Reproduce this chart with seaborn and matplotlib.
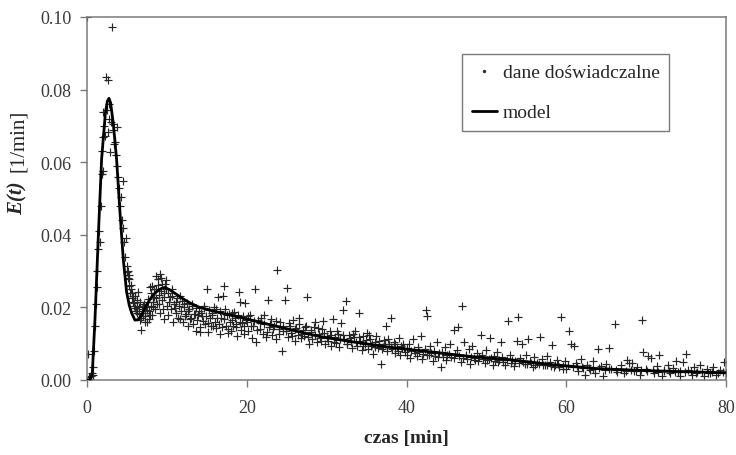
import numpy as np
import pandas as pd
import matplotlib
matplotlib.use("Agg")
import matplotlib.pyplot as plt
from matplotlib.lines import Line2D
import seaborn as sns

t_peak = [0.0, 0.15, 0.2, 0.3, 0.4, 0.5, 0.6, 0.7, 0.8, 0.9, 1.0, 1.1, 1.2, 1.3, 1.4, 1.5,
          1.62, 1.7, 1.83, 1.9, 1.95, 2.0, 2.05, 2.15, 2.25, 2.37, 2.45, 2.58, 2.6, 2.7, 2.8,
          2.9, 3.0, 3.08, 3.2, 3.3, 3.4, 3.5, 3.6, 3.7, 3.8, 3.9, 4.0, 4.1, 4.25, 4.35, 4.45,
          4.54, 4.65, 4.75, 4.85, 4.96, 5.0, 5.1]
e_peak = [0.1000, 0.0072, 0.0003, 0.0008, 0.0002, 0.0012, 0.0020, 0.0015, 0.0035, 0.0080,
          0.0150, 0.0210, 0.0255, 0.0300, 0.0360, 0.0411, 0.0379, 0.0480, 0.0567, 0.0630,
          0.0577, 0.0670, 0.0737, 0.0700, 0.0673, 0.0836, 0.0745, 0.0827, 0.0682, 0.0760,
          0.0720, 0.0627, 0.0710, 0.0973, 0.0690, 0.0705, 0.0650, 0.0655, 0.0620, 0.0696,
          0.0590, 0.0560, 0.0530, 0.0480, 0.0503, 0.0440, 0.0420, 0.0549, 0.0380, 0.0338,
          0.0390, 0.0315, 0.0297, 0.0280]

t_dip = [5.15, 5.2, 5.25, 5.3, 5.4, 5.45, 5.5, 5.6, 5.65, 5.7, 5.8, 5.85, 5.9, 6.0, 6.05, 6.1,
         6.2, 6.25, 6.3, 6.4, 6.45, 6.5, 6.6, 6.65, 6.7, 6.8, 6.85, 6.9, 7.0, 7.05, 7.1, 7.2,
         7.25, 7.3, 7.4, 7.45, 7.5, 7.6, 7.65, 7.7, 7.8, 7.85, 7.9, 8.0, 8.05, 8.1, 8.2, 8.25,
         8.3, 8.4, 8.45, 8.5, 8.6, 8.65, 8.7, 8.8, 8.85, 8.9, 9.0, 9.05, 9.1, 9.2, 9.25, 9.3,
         9.4, 9.45, 9.5, 9.6, 9.65, 9.7, 9.8, 9.85, 9.9]
e_dip = [0.0300, 0.0260, 0.0290, 0.0278, 0.0240, 0.0262, 0.0250, 0.0225, 0.0240, 0.0215,
         0.0232, 0.0212, 0.0205, 0.0232, 0.0198, 0.0190, 0.0205, 0.0185, 0.0220, 0.0242,
         0.0200, 0.0182, 0.0214, 0.0165, 0.0170, 0.0139, 0.0190, 0.0195, 0.0177, 0.0205,
         0.0210, 0.0159, 0.0175, 0.0185, 0.0200, 0.0192, 0.0159, 0.0222, 0.0215, 0.0168,
         0.0190, 0.0180, 0.0255, 0.0205, 0.0240, 0.0178, 0.0260, 0.0200, 0.0215, 0.0230,
         0.0250, 0.0195, 0.0250, 0.0225, 0.0287, 0.0210, 0.0262, 0.0278, 0.0235, 0.0210,
         0.0292, 0.0185, 0.0245, 0.0280, 0.0220, 0.0265, 0.0195, 0.0240, 0.0230, 0.0168,
         0.0265, 0.0250, 0.0276]

t_mid = [10.0, 10.1, 10.2, 10.3, 10.4, 10.5, 10.6, 10.7, 10.8, 10.9, 11.0, 11.1, 11.2, 11.3,
         11.4, 11.5, 11.6, 11.7, 11.8, 11.9, 12.0, 12.1, 12.2, 12.3, 12.4, 12.5, 12.6, 12.7,
         12.8, 12.9, 13.0, 13.1, 13.2, 13.3, 13.4, 13.5, 13.6, 13.7, 13.8, 13.9, 14.0, 14.1,
         14.2, 14.3, 14.4, 14.5, 14.6, 14.7, 14.8, 14.9, 15.0, 15.1, 15.2, 15.3, 15.4, 15.5,
         15.6, 15.7, 15.8, 15.9, 16.0, 16.1, 16.2, 16.3, 16.4, 16.5, 16.6, 16.7, 16.8, 16.9,
         17.0, 17.1, 17.2, 17.3, 17.4, 17.5, 17.6, 17.7, 17.8, 17.9, 18.0, 18.1, 18.2, 18.3,
         18.4, 18.5, 18.6, 18.7, 18.8, 18.9, 19.0, 19.1, 19.2, 19.3, 19.4, 19.5, 19.6, 19.7,
         19.8, 19.9]
e_mid = [0.0205, 0.0240, 0.0180, 0.0215, 0.0228, 0.0195, 0.0232, 0.0251, 0.0161, 0.0210,
         0.0198, 0.0185, 0.0215, 0.0225, 0.0172, 0.0205, 0.0232, 0.0168, 0.0190, 0.0218,
         0.0160, 0.0200, 0.0208, 0.0175, 0.0183, 0.0212, 0.0150, 0.0190, 0.0195, 0.0168,
         0.0172, 0.0210, 0.0205, 0.0155, 0.0182, 0.0182, 0.0136, 0.0198, 0.0165, 0.0178,
         0.0190, 0.0145, 0.0133, 0.0185, 0.0176, 0.0162, 0.0198, 0.0205, 0.0155, 0.0175,
         0.0251, 0.0158, 0.0131, 0.0192, 0.0170, 0.0150, 0.0185, 0.0178, 0.0148, 0.0200,
         0.0160, 0.0142, 0.0195, 0.0170, 0.0228, 0.0155, 0.0127, 0.0190, 0.0172, 0.0145,
         0.0231, 0.0168, 0.0260, 0.0195, 0.0150, 0.0178, 0.0140, 0.0130, 0.0182, 0.0160,
         0.0135, 0.0185, 0.0165, 0.0148, 0.0188, 0.0170, 0.0145, 0.0155, 0.0120, 0.0180,
         0.0242, 0.0160, 0.0214, 0.0138, 0.0158, 0.0175, 0.0127, 0.0150, 0.0212, 0.0165]

t_slope = [20.0, 20.1, 20.2, 20.4, 20.5, 20.6, 20.8, 20.9, 21.0, 21.2, 21.3, 21.4, 21.6, 21.7,
           21.8, 22.0, 22.1, 22.2, 22.4, 22.5, 22.6, 22.8, 22.9, 23.0, 23.2, 23.3, 23.4, 23.6,
           23.7, 23.8, 24.0, 24.1, 24.2, 24.4, 24.5, 24.6, 24.8, 24.9, 25.0, 25.2, 25.3, 25.4,
           25.6, 25.7, 25.8, 26.0, 26.1, 26.2, 26.4, 26.5, 26.6, 26.8, 26.9, 27.0, 27.2, 27.3,
           27.4, 27.6, 27.7, 27.8, 28.0, 28.1, 28.2, 28.4, 28.5, 28.6, 28.8, 28.9, 29.0, 29.2,
           29.3, 29.4, 29.6, 29.7, 29.8, 30.0, 30.1, 30.2, 30.4, 30.5, 30.6, 30.8, 30.9, 31.0,
           31.2, 31.3, 31.4, 31.6, 31.7, 31.8, 32.0, 32.1, 32.2, 32.4, 32.5, 32.6, 32.8, 32.9,
           33.0, 33.2, 33.3, 33.4, 33.6, 33.7, 33.8, 34.0, 34.1, 34.2, 34.4, 34.5, 34.6, 34.8,
           34.9, 35.0, 35.2, 35.3, 35.4, 35.6, 35.7, 35.8, 36.0, 36.1, 36.2, 36.4, 36.5, 36.6,
           36.8, 36.9, 37.0, 37.2, 37.3, 37.4, 37.6, 37.7, 37.8, 38.0, 38.1, 38.2, 38.4, 38.5,
           38.6, 38.8, 38.9, 39.0, 39.2, 39.3, 39.4, 39.6, 39.7, 39.8]
e_slope = [0.0160, 0.0175, 0.0135, 0.0178, 0.0148, 0.0115, 0.0150, 0.0162, 0.0251, 0.0106,
           0.0138, 0.0165, 0.0140, 0.0158, 0.0172, 0.0128, 0.0180, 0.0155, 0.0118, 0.0132,
           0.0221, 0.0145, 0.0155, 0.0168, 0.0125, 0.0140, 0.0150, 0.0112, 0.0162, 0.0303,
           0.0140, 0.0128, 0.0160, 0.0081, 0.0150, 0.0135, 0.0221, 0.0135, 0.0253, 0.0118,
           0.0158, 0.0148, 0.0130, 0.0122, 0.0165, 0.0108, 0.0140, 0.0142, 0.0125, 0.0170,
           0.0155, 0.0115, 0.0128, 0.0138, 0.0120, 0.0145, 0.0150, 0.0230, 0.0118, 0.0099,
           0.0132, 0.0138, 0.0112, 0.0145, 0.0125, 0.0161, 0.0105, 0.0142, 0.0128, 0.0115,
           0.0108, 0.0140, 0.0163, 0.0130, 0.0098, 0.0122, 0.0115, 0.0108, 0.0135, 0.0125,
           0.0095, 0.0168, 0.0105, 0.0118, 0.0102, 0.0135, 0.0128, 0.0090, 0.0112, 0.0157,
           0.0193, 0.0125, 0.0112, 0.0219, 0.0100, 0.0098, 0.0125, 0.0115, 0.0105, 0.0088,
           0.0128, 0.0118, 0.0135, 0.0105, 0.0095, 0.0184, 0.0118, 0.0108, 0.0082, 0.0095,
           0.0120, 0.0100, 0.0110, 0.0130, 0.0085, 0.0125, 0.0112, 0.0095, 0.0100, 0.0072,
           0.0105, 0.0092, 0.0122, 0.0088, 0.0108, 0.0100, 0.0044, 0.0085, 0.0092, 0.0110,
           0.0098, 0.0150, 0.0080, 0.0112, 0.0098, 0.0171, 0.0090, 0.0085, 0.0105, 0.0100,
           0.0075, 0.0092, 0.0080, 0.0115, 0.0068, 0.0095, 0.0088, 0.0100, 0.0087, 0.0078]

t_late = [40.0, 40.1, 40.3, 40.5, 40.6, 40.8, 41.0, 41.1, 41.3, 41.5, 41.6, 41.8, 42.0, 42.1,
          42.3, 42.5, 42.55, 42.6, 42.8, 43.0, 43.1, 43.3, 43.5, 43.6, 43.8, 44.0, 44.1, 44.3,
          44.5, 44.6, 44.8, 45.0, 45.1, 45.3, 45.5, 45.6, 45.9, 46.0, 46.1, 46.3, 46.5, 46.6,
          46.8, 47.0, 47.1, 47.25, 47.5, 47.6, 47.8, 48.0, 48.1, 48.2, 48.5, 48.6, 48.8, 49.0,
          49.1, 49.3, 49.5, 49.6, 49.8, 50.0, 50.1, 50.3, 50.5, 50.6, 50.8, 51.0, 51.1, 51.3,
          51.5, 51.6, 51.8, 52.0, 52.1, 52.3, 52.6, 52.7, 52.9, 53.1, 53.2, 53.5, 53.6, 53.8,
          53.9, 54.1, 54.2, 54.5, 54.6, 54.8, 55.0, 55.1, 55.2, 55.5, 55.6, 55.8, 56.0, 56.1,
          56.3, 56.6, 56.75, 57.0, 57.1, 57.3, 57.6, 57.65, 58.0, 58.1, 58.2, 58.5, 58.6, 58.8,
          59.0, 59.1, 59.3, 59.6, 59.65, 59.8]
e_late = [0.0070, 0.0088, 0.0098, 0.0060, 0.0080, 0.0112, 0.0082, 0.0075, 0.0065, 0.0090,
          0.0078, 0.0120, 0.0058, 0.0072, 0.0085, 0.0193, 0.0175, 0.0068, 0.0070, 0.0095,
          0.0075, 0.0052, 0.0080, 0.0066, 0.0105, 0.0062, 0.0074, 0.0035, 0.0078, 0.0062,
          0.0090, 0.0055, 0.0070, 0.0072, 0.0100, 0.0064, 0.0139, 0.0060, 0.0072, 0.0082,
          0.0145, 0.0066, 0.0050, 0.0204, 0.0060, 0.0104, 0.0068, 0.0058, 0.0085, 0.0045,
          0.0064, 0.0094, 0.0060, 0.0055, 0.0075, 0.0052, 0.0062, 0.0124, 0.0070, 0.0058,
          0.0048, 0.0082, 0.0054, 0.0058, 0.0115, 0.0060, 0.0040, 0.0066, 0.0052, 0.0078,
          0.0050, 0.0056, 0.0104, 0.0062, 0.0050, 0.0042, 0.0054, 0.0163, 0.0070, 0.0048,
          0.0055, 0.0038, 0.0052, 0.0108, 0.0174, 0.0046, 0.0060, 0.0099, 0.0050, 0.0045,
          0.0068, 0.0044, 0.0113, 0.0052, 0.0048, 0.0035, 0.0062, 0.0042, 0.0048, 0.0044,
          0.0119, 0.0058, 0.0040, 0.0040, 0.0066, 0.0042, 0.0050, 0.0038, 0.0097, 0.0036,
          0.0040, 0.0055, 0.0044, 0.0036, 0.0173, 0.0030, 0.0038, 0.0052]

t_tail = [60.0, 60.2, 60.4, 60.6, 60.8, 61.0, 61.2, 61.4, 61.5, 61.8, 62.0, 62.1, 62.3, 62.6,
          62.8, 63.0, 63.3, 63.4, 63.6, 64.0, 64.1, 64.3, 64.6, 64.8, 65.0, 65.3, 65.4, 65.6,
          66.1, 66.2, 66.4, 66.8, 66.9, 67.2, 67.5, 67.6, 67.9, 68.1, 68.2, 68.5, 68.7, 68.8,
          69.2, 69.4, 69.5, 69.6, 70.0, 70.1, 70.2, 70.6, 70.8, 71.0, 71.3, 71.5, 71.6, 72.0,
          72.2, 72.3, 72.7, 72.9, 73.0, 73.4, 73.6, 73.7, 74.0, 74.2, 74.3, 74.6, 74.9, 75.0,
          75.3, 75.6, 75.7, 76.0, 76.3, 76.4, 76.8, 77.0, 77.2, 77.6, 77.7, 78.0, 78.3, 78.4,
          78.8, 79.0, 79.2, 79.6, 79.7, 80.0]
e_tail = [0.0030, 0.0040, 0.0136, 0.0099, 0.0036, 0.0094, 0.0048, 0.0038, 0.0025, 0.0058,
          0.0035, 0.0032, 0.0015, 0.0042, 0.0034, 0.0028, 0.0052, 0.0030, 0.0020, 0.0085,
          0.0032, 0.0038, 0.0012, 0.0028, 0.0045, 0.0087, 0.0030, 0.0030, 0.0154, 0.0027,
          0.0022, 0.0040, 0.0030, 0.0018, 0.0026, 0.0056, 0.0046, 0.0028, 0.0046, 0.0025,
          0.0024, 0.0035, 0.0015, 0.0027, 0.0165, 0.0076, 0.0030, 0.0025, 0.0065, 0.0061,
          0.0027, 0.0020, 0.0038, 0.0023, 0.0070, 0.0012, 0.0026, 0.0028, 0.0042, 0.0024,
          0.0018, 0.0032, 0.0022, 0.0053, 0.0022, 0.0025, 0.0010, 0.0050, 0.0021, 0.0072,
          0.0028, 0.0024, 0.0015, 0.0035, 0.0020, 0.0022, 0.0040, 0.0023, 0.0012, 0.0030,
          0.0019, 0.0020, 0.0022, 0.0035, 0.0015, 0.0018, 0.0028, 0.0021, 0.0050, 0.0018]

# ---------------- model curve ----------------
t_model = [0, 0.37, 0.67, 1.0, 1.42, 1.83, 2.3, 2.55, 2.75, 2.95, 3.3, 3.7, 4.1, 4.54, 4.96,
           5.3, 5.6, 6.0, 6.4, 6.8, 7.3, 7.9, 8.4, 8.9, 9.4, 9.75, 10.4, 11.2, 12.0, 13.0,
           14.1, 16.5, 19.1, 21.5, 24.1, 26.5, 29.1, 33.0, 37.9, 42.0, 47.9, 52.5, 58.3,
           64.1, 71.2, 80.0]
e_model = [0, 0, 0.0021, 0.0168, 0.0398, 0.0609, 0.0735, 0.0768, 0.0776, 0.0764, 0.0705,
           0.0609, 0.0471, 0.0333, 0.0242, 0.0205, 0.0184, 0.0165, 0.0166, 0.0178, 0.0200,
           0.0223, 0.0237, 0.0247, 0.0253, 0.0255, 0.0248, 0.0236, 0.0224, 0.0211, 0.0200,
           0.0186, 0.0173, 0.0160, 0.0146, 0.0133, 0.0120, 0.0106, 0.0090, 0.0080, 0.0065,
           0.0057, 0.0042, 0.0031, 0.0025, 0.0020]

x_ticks = [0, 20, 40, 60, 80]
y_ticks = [0.00, 0.02, 0.04, 0.06, 0.08, 0.10]
y_ticklabels = ["0.00", "0.02", "0.04", "0.06", "0.08", "0.10"]

# ---------------- build frames ----------------
exp_df = pd.DataFrame({
    "t": t_peak + t_dip + t_mid + t_slope + t_late + t_tail,
    "E": e_peak + e_dip + e_mid + e_slope + e_late + e_tail,
})
model_df = pd.DataFrame({"t": t_model, "E": e_model})

sns.set_style("white")
plt.rcParams["font.family"] = ["Liberation Serif", "DejaVu Serif"]

fig = plt.figure(figsize=(7.36, 4.56), dpi=100)
ax = fig.add_axes([87 / 736, 1 - 381 / 456, (726 - 87) / 736, (381 - 18) / 456])

sns.scatterplot(data=exp_df, x="t", y="E", ax=ax, marker="+", s=26, color="#262626",
                linewidth=0.85, legend=False, zorder=2)
sns.lineplot(data=model_df, x="t", y="E", ax=ax, color="black", linewidth=2.0,
             legend=False, zorder=3, estimator=None)

ax.set_xlim(0, 80)
ax.set_ylim(0, 0.10)
ax.set_xticks(x_ticks)
ax.set_yticks(y_ticks)
ax.set_yticklabels(y_ticklabels)
ax.tick_params(axis="both", direction="out", length=5, width=1, color="#7a7a7a",
               labelsize=13, labelcolor="#3a3a3a", left=True, bottom=True)
ax.tick_params(axis="y", pad=6)
ax.tick_params(axis="x", pad=9)
for sp in ax.spines.values():
    sp.set_visible(True)
    sp.set_color("#7a7a7a")
    sp.set_linewidth(1.1)

ax.set_xlabel("czas [min]", fontsize=14, fontweight="bold", labelpad=9)
ax.set_ylabel("")
fig.text(18 / 736, 1 - 141 / 456, "[1/min]", rotation=90, ha="center", va="center",
         fontsize=15)
fig.text(18 / 736, 1 - 198 / 456, "E(t)", rotation=90, ha="center", va="center",
         fontsize=15, fontweight="bold", fontstyle="italic")

handles = [
    Line2D([], [], linestyle="none", marker=".", markersize=3, color="#333333"),
    Line2D([], [], color="black", linewidth=2.0),
]
leg = ax.legend(handles, ["dane doświadczalne", "model"], loc="upper left",
                bbox_to_anchor=((462 - 87) / 639, (381 - 55) / 363), borderaxespad=0,
                fontsize=14, frameon=True, fancybox=False,
                edgecolor="#7a7a7a", framealpha=1, borderpad=0.5, labelspacing=1.15,
                handlelength=1.3, handletextpad=0.3)
leg.get_frame().set_linewidth(1.0)

fig.savefig("out.png", dpi=100)
